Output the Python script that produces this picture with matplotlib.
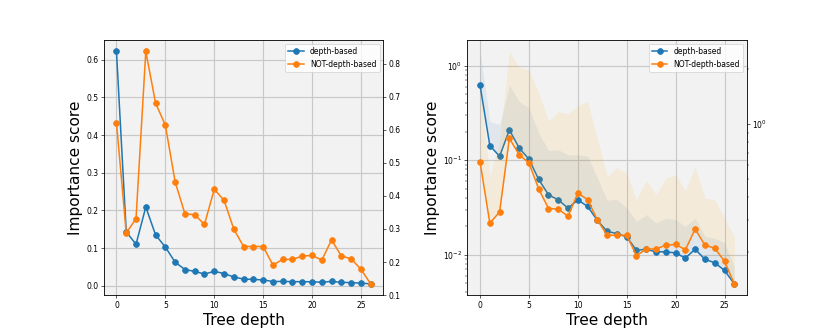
import numpy as np
import matplotlib
matplotlib.use("Agg")
import matplotlib.pyplot as plt

# profundidade da arvore
depth = np.arange(27)

# importancia media por profundidade
depth_based = [0.622, 0.143, 0.110, 0.209, 0.135, 0.1025, 0.0625, 0.043, 0.038, 0.031,
               0.038, 0.0324, 0.023, 0.0176, 0.0167, 0.0154, 0.0111, 0.0114, 0.0107, 0.0107,
               0.0104, 0.0092, 0.0114, 0.0089, 0.0082, 0.0068, 0.0049]
not_depth_based = [0.622, 0.288, 0.331, 0.837, 0.681, 0.614, 0.4425, 0.346, 0.343, 0.314,
                   0.420, 0.387, 0.2995, 0.247, 0.247, 0.247, 0.191, 0.208, 0.208, 0.218,
                   0.220, 0.206, 0.267, 0.218, 0.210, 0.178, 0.134]

# limite superior das faixas (grafico da direita)
depth_based_hi = [1.42, 0.257, 0.238, 0.62, 0.42, 0.356, 0.194, 0.127, 0.129, 0.114,
                  0.114, 0.111, 0.0647, 0.0376, 0.0388, 0.0311, 0.0225, 0.0265, 0.0216, 0.0244,
                  0.0235, 0.0199, 0.0244, 0.0156, 0.015, 0.0133, 0.0075]
not_depth_based_hi = [1.6, 0.518, 0.81, 2.5, 2.05, 1.98, 1.48, 1.04, 1.17, 1.14,
                      1.26, 1.33, 0.839, 0.518, 0.58, 0.54, 0.386, 0.492, 0.411, 0.507,
                      0.529, 0.434, 0.587, 0.394, 0.386, 0.306, 0.243]

fig, axes = plt.subplots(1, 2, figsize=(15, 6), dpi=830 / 15)
fig.subplots_adjust(wspace=0.3)

for i, ax in enumerate(axes):
    ax.set_facecolor("#f2f2f2")
    ax.grid(True, color="#c8c8c8", linewidth=1.5)
    ax.set_axisbelow(True)
    ax2 = ax.twinx()

    l1, = ax.plot(depth, depth_based, "o-", color="C0", lw=2, ms=7.5, label="depth-based")
    l2, = ax2.plot(depth, not_depth_based, "o-", color="C1", lw=2, ms=7.5, label="NOT-depth-based")

    if i == 1:
        ax.fill_between(depth, depth_based, depth_based_hi, color="steelblue", alpha=0.1, linewidth=0)
        ax2.fill_between(depth, not_depth_based, not_depth_based_hi, color="orange", alpha=0.1, linewidth=0)
        ax.set_yscale("log")
        ax2.set_yscale("log")

    ax.set_xticks([0, 5, 10, 15, 20, 25])
    ax.set_xlabel("Tree depth", fontsize=20)
    ax.set_ylabel("Importance score", fontsize=20)
    ax2.legend([l1, l2], [l1.get_label(), l2.get_label()], loc="upper right")

plt.savefig("out.png")
